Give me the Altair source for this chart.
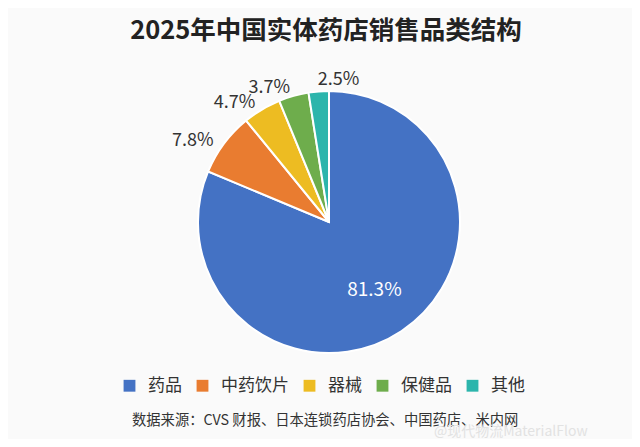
import altair as alt
import pandas as pd

categories = ["药品", "中药饮片", "器械", "保健品", "其他"]
values = [81.3, 7.8, 4.7, 3.7, 2.5]
colors = ["#4472C4", "#E97C30", "#EDBC22", "#6EAD4C", "#2CB5AC"]
labels = [f"{v}%" for v in values]
title_text = "2025年中国实体药店销售品类结构"
source_text = "数据来源：CVS 财报、日本连锁药店协会、中国药店、米内网"
watermark_text = "@现代物流MaterialFlow"

FONT = "Noto Sans CJK SC"

df = pd.DataFrame({
    "category": categories,
    "value": values,
    "label": labels,
    "idx": list(range(len(categories))),
})

CX, CY, R = 321, 166, 131

base = alt.Chart(df).transform_window(
    cum="sum(value)", sort=[alt.SortField("idx")], frame=[None, 0]
).transform_joinaggregate(
    total="sum(value)"
).transform_calculate(
    start="(datum.cum - datum.value) / datum.total",
    end="datum.cum / datum.total",
    mid="(datum.cum - datum.value / 2) / datum.total",
)

theta_scale = alt.Scale(domain=[0, 1], range=[0, 6.283185307179586])

arcs = base.mark_arc(stroke="white", strokeWidth=2, radius=R).encode(
    theta=alt.Theta("start:Q", scale=theta_scale),
    theta2="end:Q",
    x=alt.value(CX),
    y=alt.value(CY),
    color=alt.Color(
        "category:N",
        scale=alt.Scale(domain=categories, range=colors),
        sort=categories,
        legend=alt.Legend(
            title=None,
            orient="none",
            legendX=113,
            legendY=321,
            direction="horizontal",
            columns=5,
            symbolType="square",
            symbolSize=140,
            symbolStrokeWidth=0,
            labelFont=FONT,
            labelFontSize=17,
            labelColor="#333333",
            labelOffset=10,
            columnPadding=12,
            padding=0,
        ),
    ),
)

outer_right = base.transform_filter("datum.idx >= 1 && datum.idx <= 3").mark_text(
    radius=144, align="right", baseline="middle", dy=5, font=FONT, fontSize=18, color="#333333"
).encode(
    theta=alt.Theta("mid:Q", scale=theta_scale),
    x=alt.value(CX),
    y=alt.value(CY),
    text="label:N",
)

outer_left = base.transform_filter("datum.idx == 4").mark_text(
    radius=142, align="left", baseline="middle", font=FONT, fontSize=18, color="#333333"
).encode(
    theta=alt.Theta("mid:Q", scale=theta_scale),
    x=alt.value(CX),
    y=alt.value(CY),
    text="label:N",
)

inner = base.transform_filter("datum.idx == 0").mark_text(
    radius=82, align="center", baseline="middle", font=FONT, fontSize=19, color="white"
).encode(
    theta=alt.Theta("mid:Q", scale=theta_scale),
    x=alt.value(CX),
    y=alt.value(CY),
    text="label:N",
)

src = alt.Chart(pd.DataFrame({"t": [source_text]})).mark_text(
    align="left", baseline="middle", font=FONT, fontSize=14.3, color="#333333"
).encode(x=alt.value(124), y=alt.value(365), text="t:N")

wm = alt.Chart(pd.DataFrame({"t": [watermark_text]})).mark_text(
    align="left", baseline="middle", font=FONT, fontSize=14, color="#e2e2e2"
).encode(x=alt.value(426), y=alt.value(376), text="t:N")

chart = alt.layer(arcs, outer_right, outer_left, inner, src, wm).properties(
    width=624,
    height=383,
    padding={"top": 48, "left": 0, "right": 0, "bottom": 0},
    autosize=alt.AutoSizeParams(type="none"),
    background="#fafafa",
    title=alt.Title(
        title_text,
        font=FONT,
        fontSize=25.5,
        fontWeight="bold",
        color="#222222",
        anchor="middle",
        baseline="alphabetic",
        offset=18,
        dx=6,
        dy=26,
    ),
).configure_view(stroke=None)

chart.save("out.html", embed_options={"renderer": "svg", "actions": False})
